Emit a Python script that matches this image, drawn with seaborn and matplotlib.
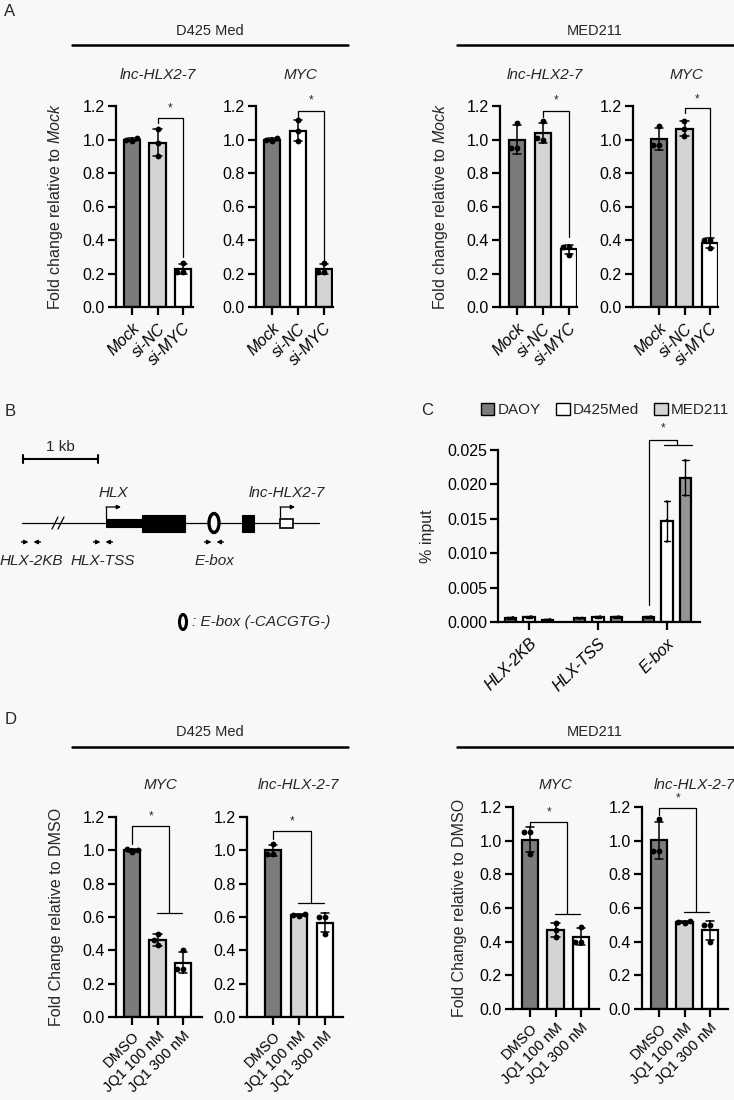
import numpy as np
import pandas as pd
import matplotlib
matplotlib.use("Agg")
import matplotlib.pyplot as plt
import seaborn as sns
from matplotlib.patches import Rectangle, Ellipse, Patch
from matplotlib.lines import Line2D

# ---------------- DATA ----------------
A_conditions = ["Mock", "si-NC", "si-MYC"]
A_d425_lnc = [[1.01, 1.00, 0.99], [1.06, 0.98, 0.90], [0.26, 0.21, 0.21]]
A_d425_myc = [[1.01, 1.00, 0.99], [1.115, 1.05, 0.99], [0.26, 0.21, 0.21]]
A_med211_lnc = [[1.10, 0.95, 0.95], [1.11, 1.00, 1.01], [0.36, 0.36, 0.31]]
A_med211_myc = [[1.08, 0.965, 0.965], [1.11, 1.06, 1.02], [0.40, 0.40, 0.35]]

D_conditions = ["DMSO", "JQ1 100 nM", "JQ1 300 nM"]
D_d425_myc = [[1.01, 1.00, 0.99], [0.50, 0.46, 0.43], [0.40, 0.29, 0.29]]
D_d425_lnc = [[1.04, 0.98, 0.98], [0.62, 0.61, 0.605], [0.60, 0.60, 0.50]]
D_med211_myc = [[1.05, 1.05, 0.92], [0.51, 0.47, 0.43], [0.49, 0.40, 0.40]]
D_med211_lnc = [[1.13, 0.94, 0.94], [0.52, 0.515, 0.51], [0.50, 0.50, 0.40]]

C_regions = ["HLX-2KB", "HLX-TSS", "E-box"]
C_lines = ["DAOY", "D425Med", "MED211"]
C_daoy = [[0.0007, 0.0006, 0.0005], [0.0006, 0.0006, 0.0005], [0.0008, 0.0007, 0.0006]]
C_d425 = [[0.0008, 0.0007, 0.0006], [0.0008, 0.0007, 0.0006], [0.0175, 0.0148, 0.0117]]
C_med211 = [[0.0004, 0.0003, 0.0003], [0.0008, 0.0007, 0.0006], [0.0235, 0.0210, 0.0184]]

# gene schematic (kb)
B_line_kb = (0.0, 3.96)
B_break_kb = 0.48
B_exons_kb = [(1.12, 1.60, "thin"), (1.60, 2.17, "thick"), (2.93, 3.09, "thick"), (3.44, 3.61, "open")]
B_tss_kb = {"HLX": 1.12, "lnc-HLX2-7": 3.44}
B_ebox_kb = 2.56
B_primers_kb = {"HLX-2KB": (0.04, 0.20), "HLX-TSS": (1.00, 1.16), "E-box": (2.48, 2.64)}

# ---------------- STYLE ----------------
W, H = 734, 1100
sns.set_theme(style="ticks")
plt.rcParams["font.family"] = ["Liberation Sans", "DejaVu Sans"]
plt.rcParams["mathtext.fontset"] = "custom"
plt.rcParams["mathtext.it"] = "Liberation Sans:italic"
plt.rcParams["mathtext.rm"] = "Liberation Sans"
BG = "#f8f8f8"
DARK, LIGHT, WHITE, MID = "#7b7b7b", "#d4d4d4", "#ffffff", "#959595"
FS_TICK, FS_LAB, FS_TITLE, FS_HEAD = 11.5, 11.5, 11, 10.5

fig = plt.figure(figsize=(W / 100, H / 100), dpi=100)
fig.patch.set_facecolor(BG)


def P(x, y):
    return (x / W, 1 - y / H)


def add_ax(l, t, r, b):
    ax = fig.add_axes([l / W, 1 - b / H, (r - l) / W, (b - t) / H])
    ax.set_facecolor("none")
    return ax


def style_axes(ax, xpad=4):
    for s in ["top", "right"]:
        ax.spines[s].set_visible(False)
    for s in ["left", "bottom"]:
        ax.spines[s].set_linewidth(1.6)
        ax.spines[s].set_color("black")
    ax.tick_params(axis="both", direction="out", length=6, width=1.6, color="black",
                   labelcolor="black")
    ax.tick_params(axis="y", pad=2, labelsize=FS_TICK)
    ax.tick_params(axis="x", pad=xpad)


def bar_panel(lay, conds, reps, colors, italic, ylabel=None, ylab_right=None,
              br_top=1.13, br_gap_l=0.02, br_gap_r=0.04, star_dy=0.06, kind="A",
              xfs=FS_TICK, xpad=4):
    spine, bar0, sp, right, top, bottom = lay
    ax = add_ax(spine, top, right, bottom)
    df = pd.DataFrame({"cond": np.repeat(conds, 3), "val": np.concatenate(reps)})
    sns.barplot(data=df, x="cond", y="val", hue="cond", order=conds, hue_order=conds,
                palette=colors, width=0.64, edgecolor="black", linewidth=1.6,
                errorbar="sd", capsize=0.33, err_kws={"color": "black", "linewidth": 1.1},
                legend=False, ax=ax)
    sns.swarmplot(data=df, x="cond", y="val", order=conds, color="black", size=4.2, ax=ax)
    ax.set_xlim(-(bar0 - spine) / sp, 2 + (right - (bar0 + 2 * sp)) / sp)
    ax.set_ylim(0, 1.2)
    ax.set_yticks(np.arange(0, 1.21, 0.2))
    ax.set_yticklabels([f"{v:.1f}" for v in np.arange(0, 1.21, 0.2)])
    ax.set_xticks(range(3))
    ax.set_xticklabels(conds, rotation=45, ha="right", va="top", rotation_mode="anchor",
                       style="italic" if italic else "normal", fontsize=xfs)
    style_axes(ax, xpad)
    ax.set_xlabel("")
    if ylabel:
        ax.set_ylabel(ylabel, fontsize=FS_LAB)
        ax.yaxis.set_label_coords((ylab_right - spine) / (right - spine), 0.5)
    else:
        ax.set_ylabel("")
    tops = [max(r) for r in reps]
    kw = dict(color="black", lw=0.9, clip_on=False)
    if kind == "A":
        ax.plot([1, 1, 2, 2], [tops[1] + br_gap_l, br_top, br_top, tops[2] + br_gap_r], **kw)
        ax.text(1.5, br_top + star_dy, "*", ha="center", va="center", fontsize=8.5)
    else:
        lvl = max(tops[1], tops[2]) + br_gap_r
        ax.plot([0, 0, 1.45, 1.45], [tops[0] + br_gap_l, br_top, br_top, lvl], **kw)
        ax.plot([0.97, 1.98], [lvl, lvl], **kw)
        ax.text(0.73, br_top + star_dy, "*", ha="center", va="center", fontsize=8.5)
    return ax


# ---------------- PANEL A ----------------
fig.text(*P(10, 11), "A", fontsize=12, ha="center", va="center")
for (x0, x1, lab, tx) in [(72, 348, "D425 Med", 210), (457, 734, "MED211", 595)]:
    fig.add_artist(Line2D([x0 / W, x1 / W], [1 - 45 / H] * 2, color="black", lw=1.8))
    fig.text(*P(tx, 31), lab, fontsize=FS_HEAD, ha="center", va="center")
for (x, t) in [(158, "lnc-HLX2-7"), (300, "MYC"), (545, "lnc-HLX2-7"), (686, "MYC")]:
    fig.text(*P(x, 75), t, fontsize=FS_TITLE, style="italic", ha="center", va="center")

ylabA = r"Fold change relative to $\mathit{Mock}$"
bar_panel((116, 132, 25.5, 193, 106, 307), A_conditions, A_d425_lnc, [DARK, LIGHT, WHITE], True,
          ylabA, 65, br_top=1.127, br_gap_l=0.04, br_gap_r=0.04, star_dy=0.06)
bar_panel((256, 272, 26, 333, 106, 307), A_conditions, A_d425_myc, [DARK, WHITE, LIGHT], True,
          br_top=1.172, br_gap_l=-0.01, br_gap_r=0.01, star_dy=0.06)
bar_panel((500, 517, 26, 577, 106, 307), A_conditions, A_med211_lnc, [DARK, LIGHT, WHITE], True,
          ylabA, 450, br_top=1.172, br_gap_l=0.026, br_gap_r=0.06, star_dy=0.06)
bar_panel((633, 659, 25.5, 718, 106, 307), A_conditions, A_med211_myc, [DARK, LIGHT, WHITE], True,
          br_top=1.186, br_gap_l=0.046, br_gap_r=0.01, star_dy=0.055)

# ---------------- PANEL B ----------------
fig.text(*P(10, 411), "B", fontsize=12, ha="center", va="center")
axB = fig.add_axes([0, 1 - 660 / H, 370 / W, 280 / H])
axB.set_facecolor("none")
axB.set_xlim(-22 / 75, 348 / 75)
axB.set_ylim(660, 380)
axB.axis("off")
YL = 523
kpx = 1 / 75  # kb per pixel
FS_B = 11
# scale bar
axB.plot([0.013, 1.013], [459, 459], color="black", lw=1.5)
for xx in [0.013, 1.013]:
    axB.plot([xx, xx], [455, 463], color="black", lw=1.5)
axB.text(0.51, 447, "1 kb", ha="center", va="center", fontsize=FS_B)
# gene line and break
axB.plot(B_line_kb, [YL, YL], color="black", lw=0.9, zorder=1)
for d in [-3, 3]:
    axB.plot([B_break_kb + (d - 3) * kpx, B_break_kb + (d + 3) * kpx], [YL + 6, YL - 6],
             color="black", lw=0.9)
for (s, e, kind) in B_exons_kb:
    if kind == "thin":
        axB.add_patch(Rectangle((s, YL - 4), e - s, 8, facecolor="black", edgecolor="black", lw=0.8, zorder=2))
    elif kind == "thick":
        axB.add_patch(Rectangle((s, YL - 8.5), e - s, 17, facecolor="black", edgecolor="black", lw=0.8, zorder=2))
    else:
        axB.add_patch(Rectangle((s, YL - 4.5), e - s, 9, facecolor="white", edgecolor="black", lw=1.2, zorder=2))
for name, t in B_tss_kb.items():
    axB.plot([t, t], [YL - 4, 507], color="black", lw=0.9)
    axB.annotate("", xy=(t + 15 * kpx, 507), xytext=(t, 507),
                 arrowprops=dict(arrowstyle="-|>", color="black", lw=0.9, mutation_scale=6,
                                 shrinkA=0, shrinkB=0))
    axB.text(t + 7 * kpx, 493, name, ha="center", va="center", fontsize=FS_B, style="italic")
axB.add_patch(Ellipse((B_ebox_kb, YL), 10 * kpx, 19, facecolor=BG, edgecolor="black", lw=2.4, zorder=3))
for name, (f, r) in B_primers_kb.items():
    axB.annotate("", xy=(f + 3.5 * kpx, 542), xytext=(f - 3.5 * kpx, 542),
                 arrowprops=dict(arrowstyle="-|>", color="black", lw=1.0, mutation_scale=6, shrinkA=0, shrinkB=0))
    axB.annotate("", xy=(r - 3.5 * kpx, 542), xytext=(r + 3.5 * kpx, 542),
                 arrowprops=dict(arrowstyle="-|>", color="black", lw=1.0, mutation_scale=6, shrinkA=0, shrinkB=0))
    axB.text((f + r) / 2, 561, name, ha="center", va="center", fontsize=FS_B, style="italic")
axB.add_patch(Ellipse((161 * kpx, 622), 7 * kpx, 15, facecolor=BG, edgecolor="black", lw=2.2))
axB.text(170 * kpx, 622, ": E-box (-CACGTG-)", ha="left", va="center", fontsize=FS_B, style="italic")

# ---------------- PANEL C ----------------
fig.text(*P(427, 410), "C", fontsize=12, ha="center", va="center")
spC, x0C, rightC = 69.0, 529, 700
axC = add_ax(498, 450, rightC, 622)
rows = []
for line, arr in zip(C_lines, [C_daoy, C_d425, C_med211]):
    for reg, reps in zip(C_regions, arr):
        for v in reps:
            rows.append((reg, line, v))
dfC = pd.DataFrame(rows, columns=["region", "line", "val"])
sns.barplot(data=dfC, x="region", y="val", hue="line", order=C_regions, hue_order=C_lines,
            palette=[DARK, WHITE, MID], gap=0.4, edgecolor="black", linewidth=1.6,
            errorbar="sd", capsize=0.3, err_kws={"color": "black", "linewidth": 1.0},
            legend=False, ax=axC)
sns.swarmplot(data=dfC, x="region", y="val", hue="line", order=C_regions, hue_order=C_lines,
              dodge=True, palette=["black"] * 3, size=1.8, legend=False, ax=axC)
axC.set_xlim(-(x0C - 498) / spC, 2 + (rightC - (x0C + 2 * spC)) / spC)
axC.set_ylim(0, 0.025)
axC.set_yticks(np.arange(0, 0.0251, 0.005))
axC.set_yticklabels([f"{v:.3f}" for v in np.arange(0, 0.0251, 0.005)])
axC.set_xticks(range(3))
axC.set_xticklabels(C_regions, rotation=45, ha="right", va="top", rotation_mode="anchor",
                    style="italic", fontsize=FS_TICK)
style_axes(axC)
axC.set_xlabel("")
axC.set_ylabel("% input", fontsize=FS_LAB)
axC.yaxis.set_label_coords((435 - 498) / (rightC - 498), 0.5)
off = 0.8 / 3
ebox_max = [max(C_daoy[2]), max(C_d425[2]), max(C_med211[2])]
topC = max(ebox_max) + 0.0022
kw = dict(color="black", lw=0.9, clip_on=False)
axC.plot([2 - off, 2 - off, 2.145, 2.145], [ebox_max[0] + 0.0017, topC + 0.0007, topC + 0.0007, topC], **kw)
axC.plot([1.96, 2.36], [topC, topC], **kw)
axC.text(1.94, topC + 0.0024, "*", ha="center", va="center", fontsize=8.5)
fig.legend(handles=[Patch(facecolor=c, edgecolor="black", lw=1.0) for c in [DARK, WHITE, LIGHT]],
           labels=C_lines, ncol=3, loc="center", bbox_to_anchor=P(605, 410), frameon=False,
           handlelength=0.9, handleheight=0.9, handletextpad=0.2, columnspacing=1.0, fontsize=11,
           borderpad=0, borderaxespad=0)

# ---------------- PANEL D ----------------
fig.text(*P(11, 719), "D", fontsize=12, ha="center", va="center")
for (x0, x1, lab, tx) in [(72, 348, "D425 Med", 210), (457, 734, "MED211", 595)]:
    fig.add_artist(Line2D([x0 / W, x1 / W], [1 - 747 / H] * 2, color="black", lw=1.8))
    fig.text(*P(tx, 732), lab, fontsize=FS_HEAD, ha="center", va="center")
for (x, t) in [(160, "MYC"), (298, "lnc-HLX-2-7"), (555, "MYC"), (695, "lnc-HLX-2-7")]:
    fig.text(*P(x, 785), t, fontsize=FS_TITLE, style="italic", ha="center", va="center")

ylabD = "Fold Change relative to DMSO"
DXF, DXP = 10.5, 2.5
bar_panel((116, 132, 25.5, 202, 817, 1017), D_conditions, D_d425_myc, [DARK, LIGHT, WHITE], False,
          ylabD, 64, br_top=1.144, br_gap_l=0.03, br_gap_r=0.125, star_dy=0.06, kind="D",
          xfs=DXF, xpad=DXP)
bar_panel((247, 273, 26, 343, 817, 1017), D_conditions, D_d425_lnc, [DARK, LIGHT, WHITE], False,
          br_top=1.114, br_gap_l=0.03, br_gap_r=0.062, star_dy=0.06, kind="D", xfs=DXF, xpad=DXP)
bar_panel((513, 530, 25.5, 599, 807, 1009), D_conditions, D_med211_myc, [DARK, LIGHT, WHITE], False,
          ylabD, 467, br_top=1.113, br_gap_l=0.03, br_gap_r=0.056, star_dy=0.055, kind="D",
          xfs=DXF, xpad=DXP)
bar_panel((642, 659, 25.5, 728, 807, 1009), D_conditions, D_med211_lnc, [DARK, LIGHT, WHITE], False,
          br_top=1.194, br_gap_l=0.02, br_gap_r=0.054, star_dy=0.055, kind="D", xfs=DXF, xpad=DXP)

fig.savefig("out.png", dpi=100, facecolor=BG)
